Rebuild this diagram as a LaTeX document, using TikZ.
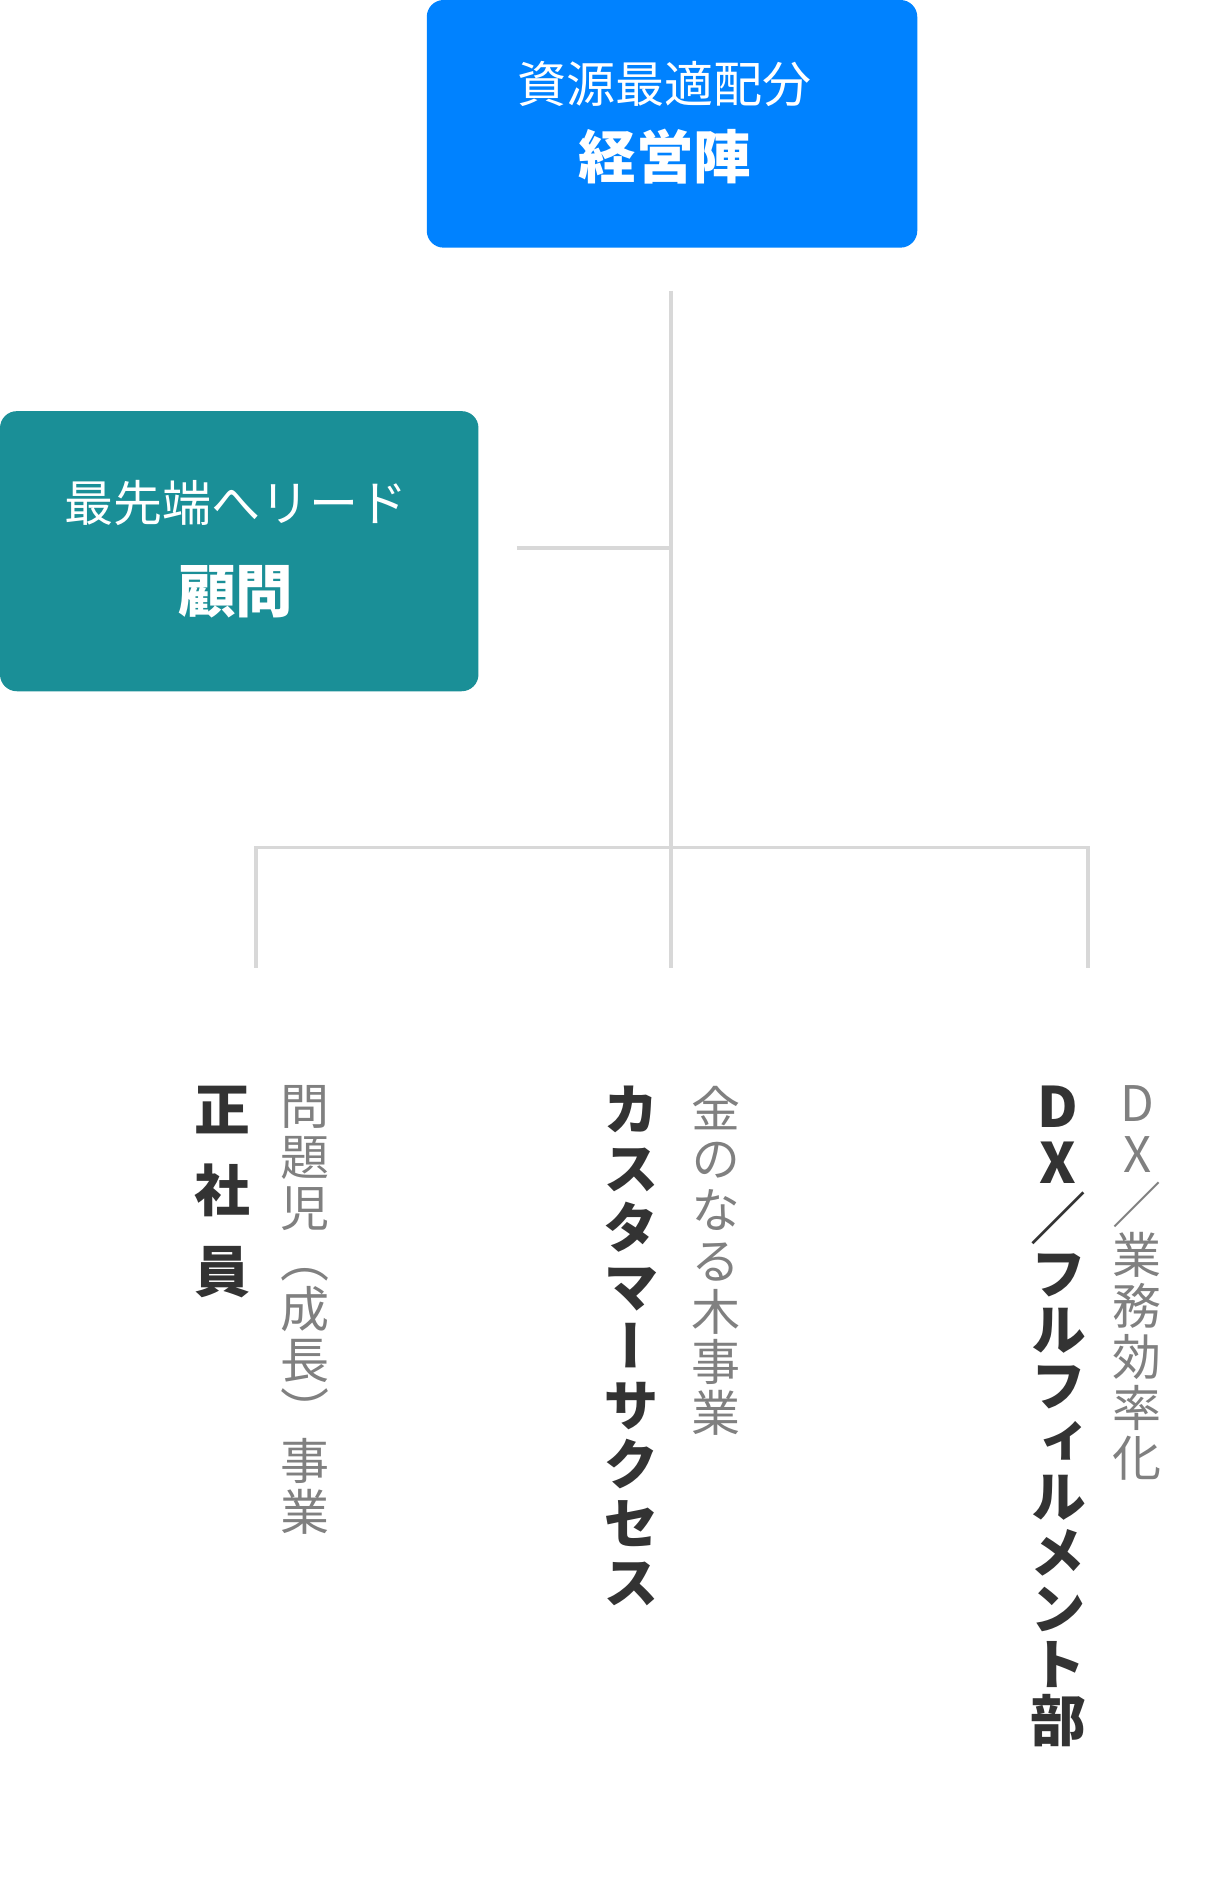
\documentclass[tikz,border=0pt]{standalone}
\usepackage{fontspec}
\newfontfamily\jp[RawFeature={+vert}]{Noto Sans CJK JP}
\newfontfamily\jph{Noto Sans CJK JP}
\definecolor{blueb}{RGB}{0,130,255}
\definecolor{tealb}{RGB}{26,143,151}
\definecolor{ln}{RGB}{216,216,216}
\definecolor{dk}{RGB}{51,51,51}
\definecolor{gr}{RGB}{128,128,128}
\begin{document}
\begin{tikzpicture}[x=0.025cm,y=-0.025cm,
  conn/.style={draw=ln,line width=2.2pt},
  boxst/.style={rounded corners=0.35cm,draw=none},
  sub/.style={font=\jph\fontsize{29}{32}\selectfont\color{white}},
  title/.style={font=\jph\bfseries\fontsize{34}{38}\selectfont\color{white}},
  vbold/.style={anchor=north,align=center,inner sep=0pt,text=dk,font=\jp\bfseries\fontsize{33}{#1}\selectfont},
  vgray/.style={anchor=north,align=center,inner sep=0pt,text=gr,font=\jp\fontsize{29}{30}\selectfont}]
\useasboundingbox (0,0) rectangle (1024,1563);
\fill[blueb,boxst] (355,0) rectangle (763,206);
\fill[tealb,boxst] (0,342) rectangle (398,575);
\node[sub] (s1) at (553,70) {資源最適配分};
\node[title] (t1) at (553,130) {経営陣};
\node[sub] (s2) at (196,418) {最先端へリード};
\node[title] (t2) at (196,492) {顧問};
\coordinate (top) at (558,242);
\coordinate (mid) at (558,705);
\coordinate (tj) at (558,456);
\coordinate (tl) at (430,456);
\coordinate (l1) at (213,705); \coordinate (l1b) at (213,805);
\coordinate (r1) at (905,705); \coordinate (r1b) at (905,805);
\coordinate (m1b) at (558,805);
\draw[conn] (top) -- (mid) -- (m1b);
\draw[conn] (tl) -- (tj);
\draw[conn] (l1b) -- (l1) -- (r1) -- (r1b);
\node[vbold=48] (a1) at (185,903) {正\\社\\員};
\node[vgray] (a2) at (254,903) {問\\題\\児\\（\\成\\長\\）\\事\\業};
\node[vbold=35] (b1) at (525,903) {カ\\ス\\タ\\マ\\ー\\サ\\ク\\セ\\ス};
\node[vgray] (b2) at (596,903) {金\\の\\な\\る\\木\\事\\業};
\node[vbold=33] (c1) at (880,903) {D\\X\\／\\フ\\ル\\フ\\ィ\\ル\\メ\\ン\\ト\\部};
\node[vgray] (c2) at (946,903) {D\\X\\／\\業\\務\\効\\率\\化};
\end{tikzpicture}
\end{document}
